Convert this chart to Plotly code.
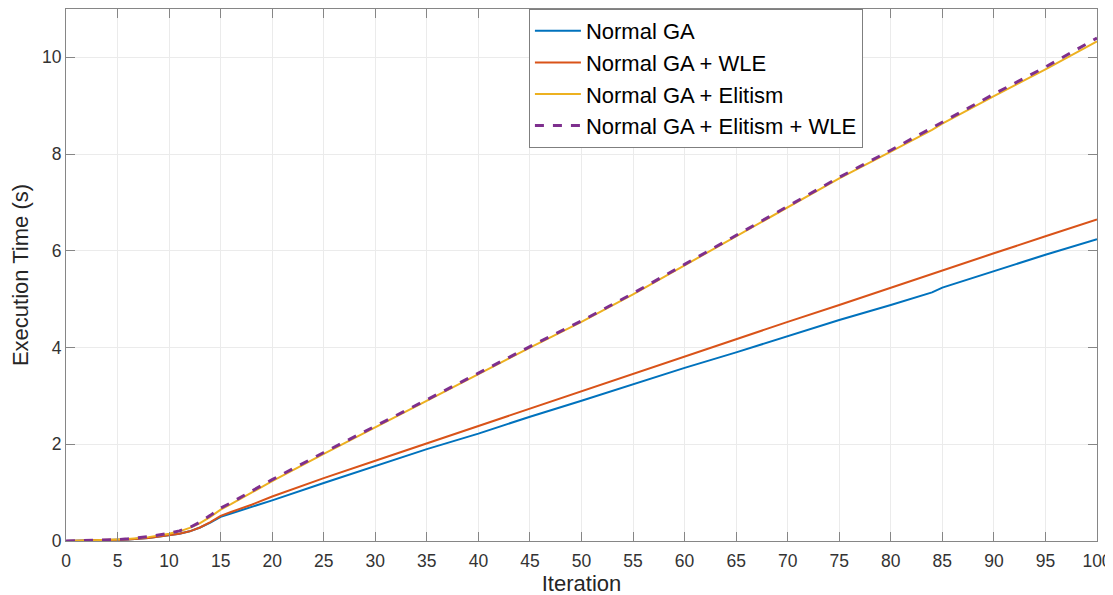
import plotly.graph_objects as go

iters = [0, 2, 4, 5, 6, 8, 10, 11, 12, 13, 14, 15, 16, 18, 20, 25, 30, 35, 40, 45, 50,
         55, 60, 65, 70, 75, 80, 84, 85, 90, 95, 100]

normal_ga = [0, 0.005, 0.013, 0.02, 0.03, 0.06, 0.11, 0.15, 0.2, 0.28, 0.38, 0.5, 0.57, 0.7,
             0.84, 1.2, 1.55, 1.9, 2.22, 2.57, 2.9, 3.24, 3.58, 3.9, 4.24, 4.57, 4.88,
             5.14, 5.24, 5.58, 5.92, 6.24]
normal_ga_wle = [0, 0.005, 0.013, 0.02, 0.03, 0.06, 0.11, 0.15, 0.2, 0.28, 0.39, 0.52, 0.6,
                 0.75, 0.92, 1.3, 1.66, 2.02, 2.38, 2.74, 3.1, 3.46, 3.82, 4.17, 4.53, 4.88,
                 5.24, 5.53, 5.6, 5.95, 6.3, 6.65]
normal_ga_elit = [0, 0.006, 0.016, 0.03, 0.04, 0.08, 0.15, 0.2, 0.27, 0.37, 0.5, 0.65, 0.76,
                  1.0, 1.24, 1.8, 2.35, 2.9, 3.45, 4.0, 4.53, 5.1, 5.7, 6.3, 6.9, 7.5,
                  8.05, 8.5, 8.63, 9.2, 9.75, 10.33]
normal_ga_elit_wle = [0, 0.006, 0.017, 0.03, 0.045, 0.09, 0.16, 0.21, 0.28, 0.39, 0.53, 0.68,
                      0.79, 1.03, 1.27, 1.83, 2.37, 2.92, 3.47, 4.02, 4.55, 5.12, 5.72, 6.32,
                      6.92, 7.52, 8.08, 8.54, 8.67, 9.24, 9.8, 10.4]

names = ["Normal GA", "Normal GA + WLE", "Normal GA + Elitism", "Normal GA + Elitism + WLE"]
colors = ["#0072BD", "#D95319", "#EDB120", "#7E2F8E"]

fig = go.Figure()
for name, ys, col in zip(names[:3], [normal_ga, normal_ga_wle, normal_ga_elit], colors[:3]):
    fig.add_trace(go.Scatter(x=iters, y=ys, mode="lines", name=name,
                             line=dict(color=col, width=2)))
fig.add_trace(go.Scatter(x=iters, y=normal_ga_elit_wle, mode="lines", name=names[3],
                         line=dict(color=colors[3], width=3, dash="dash")))

axis_common = dict(showline=True, linecolor="#868686", linewidth=1, mirror="ticks",
                   ticks="inside", ticklen=9, tickcolor="#868686",
                   showgrid=True, gridcolor="#ebebeb", gridwidth=1, zeroline=False,
                   tickfont=dict(size=17.5, color="#333333"))

fig.update_layout(
    width=1113, height=595,
    margin=dict(l=58, r=24, t=1, b=62),
    paper_bgcolor="white", plot_bgcolor="white",
    font=dict(family="Liberation Sans, Arial, sans-serif", color="#262626"),
    xaxis=dict(range=[0, 100], tickmode="linear", tick0=0, dtick=5,
               ticklabelstandoff=4,
               title=dict(text="Iteration", font=dict(size=22, color="#262626"), standoff=2),
               **axis_common),
    yaxis=dict(range=[0, 11], tickmode="linear", tick0=0, dtick=2,
               title=dict(text="Execution Time (s)", font=dict(size=22, color="#262626"), standoff=10),
               **axis_common),
    legend=dict(x=0.449, y=1, xanchor="left", yanchor="top",
                bgcolor="white", bordercolor="#7f7f7f", borderwidth=1,
                font=dict(size=22, color="black"), tracegroupgap=0,
                itemwidth=46),
    showlegend=True,
)

fig.write_html("out.html")
